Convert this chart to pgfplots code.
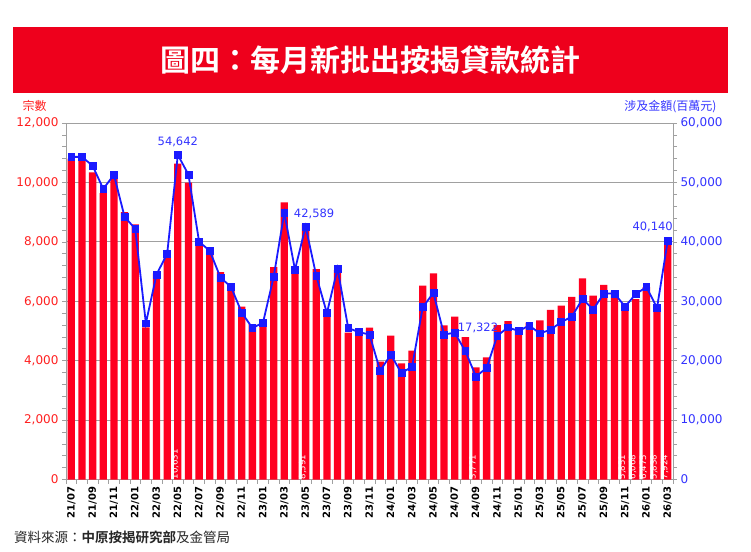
\documentclass[border=0pt]{standalone}
\usepackage{fontspec}
\setmainfont{DejaVu Sans}
\newfontfamily\cjk{Noto Sans CJK TC}[BoldFont={Noto Sans CJK TC Bold}]
\usepackage{pgfplots}
\pgfplotsset{compat=1.18}
\usepackage{pgfplotstable}

\definecolor{bannerred}{RGB}{238,0,28}
\definecolor{barred}{RGB}{255,0,32}
\definecolor{lineblue}{RGB}{26,26,255}
\definecolor{bluetext}{RGB}{51,51,255}
\definecolor{redtext}{RGB}{255,32,32}
\definecolor{gridgray}{RGB}{160,160,160}

% monthly new mortgage loans: number of cases and amount (HK$ million)
\pgfplotstableread{
idx month cases amount
0  21/07 10800 54300
1  21/08 10750 54300
2  21/09 10340 52800
3  21/10 9640  48900
4  21/11 10140 51300
5  21/12 9000  44200
6  22/01 8590  42200
7  22/02 5120  26300
8  22/03 6940  34500
9  22/04 7450  38000
10 22/05 10631 54642
11 22/06 9990  51300
12 22/07 7860  40000
13 22/08 7560  38500
14 22/09 6980  34000
15 22/10 6490  32400
16 22/11 5820  28100
17 22/12 5230  25500
18 23/01 5370  26400
19 23/02 7150  34100
20 23/03 9330  44900
21 23/04 7100  35300
22 23/05 8591  42589
23 23/06 7080  34300
24 23/07 5480  28000
25 23/08 7050  35500
26 23/09 4940  25500
27 23/10 4870  24800
28 23/11 5110  24400
29 23/12 3970  18300
30 24/01 4840  21000
31 24/02 3910  17900
32 24/03 4340  19000
33 24/04 6530  29000
34 24/05 6940  31400
35 24/06 5190  24400
36 24/07 5480  24700
37 24/08 4790  21600
38 24/09 3771  17322
39 24/10 4110  18800
40 24/11 5200  24200
41 24/12 5330  25600
42 25/01 5060  25000
43 25/02 5280  25900
44 25/03 5360  24600
45 25/04 5710  25200
46 25/05 5850  26500
47 25/06 6150  27400
48 25/07 6770  30400
49 25/08 6190  28600
50 25/09 6550  31300
51 25/10 6350  31300
52 25/11 5851  29100
53 25/12 6068  31200
54 26/01 6475  32400
55 26/02 5838  28900
56 26/03 7924  40140
}\mortgage

\pgfplotsset{
  chartframe/.style={
    at={(66pt,71.5pt)}, anchor=south west, scale only axis,
    width=607pt, height=356.5pt,
    xmin=-0.5, xmax=56.5,
    axis line style={gridgray, line width=0.8pt},
    tick align=outside,
    every tick/.style={gridgray, line width=0.6pt},
    major tick length=4pt, minor tick length=4pt,
    scaled y ticks=false,
    yticklabel style={font=\fontsize{12}{14}\selectfont, /pgf/number format/1000 sep={,}, /pgf/number format/assume math mode=true},
  },
}

\begin{document}
\begin{tikzpicture}
\useasboundingbox (0pt,0pt) rectangle (751pt,551pt);

% title banner
\fill[bannerred] (13pt,458pt) rectangle (728pt,524pt);
\node[text=white, font=\cjk\bfseries\fontsize{30}{36}\selectfont] at (370.5pt,491pt) {圖四：每月新批出按揭貸款統計};

% axis captions
\node[text=redtext, font=\cjk\fontsize{12}{14}\selectfont, anchor=west] at (19pt,445pt) {宗數};
\node[text=bluetext, font=\cjk\fontsize{12}{14}\selectfont, anchor=east] at (720pt,444.5pt) {涉及金額(百萬元)};

% source
\node[anchor=west, text=black!85, font=\cjk\fontsize{13.5}{16}\selectfont, inner sep=0pt] at (14pt,14pt) {資料來源：{\bfseries 中原按揭研究部}及金管局};

% number of cases (bars, left axis)
\begin{axis}[
  chartframe,
  ymin=0, ymax=12000,
  tick pos=left,
  ytick={0,2000,...,12000}, minor y tick num=4,
  ymajorgrids, grid style={gridgray, line width=0.8pt},
  xtick={0,2,...,56},
  xticklabels={21/07,21/09,21/11,22/01,22/03,22/05,22/07,22/09,22/11,23/01,23/03,23/05,23/07,23/09,23/11,24/01,24/03,24/05,24/07,24/09,24/11,25/01,25/03,25/05,25/07,25/09,25/11,26/01,26/03},
  minor xtick={-0.5,0.5,...,56.5},
  major x tick style={draw=none},
  xticklabel style={rotate=90, anchor=east, text=black, font=\bfseries\fontsize{10}{12}\selectfont},
  yticklabel style={text=redtext},
]
\addplot[ybar, bar width=7.3pt, fill=barred, draw=none] table[x=idx, y=cases] {\mortgage};
\begin{scope}[every node/.style={rotate=90, anchor=west, text=white, inner sep=0pt, yshift=3pt, font=\fontsize{8.6}{10}\selectfont}]
\node at (axis cs:10,0) {10,631};
\node at (axis cs:22,0) {8,591};
\node at (axis cs:38,0) {3,771};
\node at (axis cs:52,0) {5,851};
\node at (axis cs:53,0) {6,068};
\node at (axis cs:54,0) {6,475};
\node at (axis cs:55,0) {5,838};
\node at (axis cs:56,0) {7,924};
\end{scope}
\end{axis}

% amount involved (line, right axis)
\begin{axis}[
  chartframe,
  ymin=0, ymax=60000,
  axis x line=none, axis y line*=right,
  ytick={0,10000,...,60000}, minor y tick num=4,
  yticklabel style={text=bluetext},
]
\addplot[lineblue, line width=1.8pt, mark=square*, mark size=3.4pt, mark options={fill=lineblue, draw=lineblue, line width=0.6pt}] table[x=idx, y=amount] {\mortgage};
\begin{scope}[every node/.style={text=bluetext, inner sep=0pt, font=\fontsize{11.5}{13}\selectfont}]
\node at (axis cs:10,54642) [yshift=13pt] {54,642};
\node at (axis cs:22,42589) [xshift=8.5pt, yshift=13pt] {42,589};
\node at (axis cs:38,17322) [xshift=2pt, yshift=49pt] {17,322};
\node at (axis cs:56,40140) [xshift=-15pt, yshift=14.5pt] {40,140};
\end{scope}
\end{axis}
\end{tikzpicture}
\end{document}
